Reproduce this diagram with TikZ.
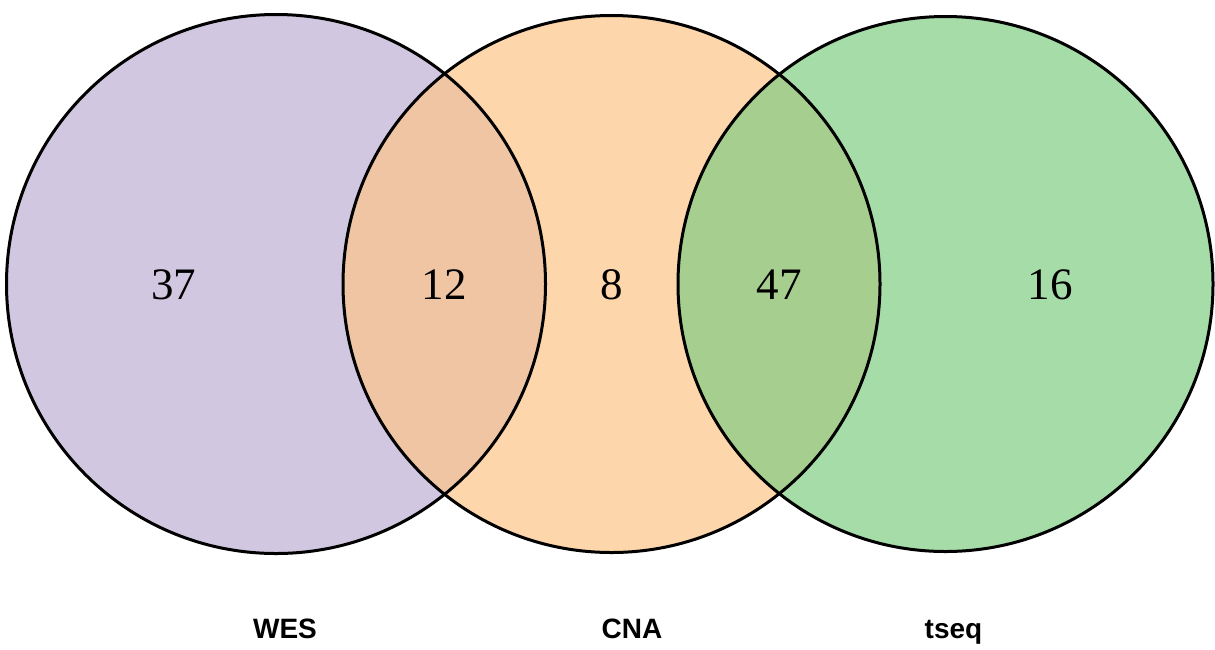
\documentclass[tikz,border=0pt]{standalone}
\usepackage{fontspec}
\setmainfont{Liberation Serif}
\newfontfamily\labelfont{Liberation Sans}
\definecolor{cwes}{RGB}{209,199,224}
\definecolor{ccna}{RGB}{253,214,171}
\definecolor{ctseq}{RGB}{166,220,168}
\definecolor{cwc}{RGB}{239,197,163}
\definecolor{cct}{RGB}{166,206,142}
\tikzset{
  setcircle/.style={circle, inner sep=0pt, outer sep=0pt, draw=none},
  outline/.style={line width=3pt, draw=black},
  count/.style={anchor=base, inner sep=0pt, font=\fontsize{45}{45}\selectfont},
  setlabel/.style={anchor=base, inner sep=0pt, font=\labelfont\bfseries\fontsize{28}{28}\selectfont}
}
\begin{document}
\begin{tikzpicture}[x=1pt,y=-1pt]
\useasboundingbox (0,0) rectangle (1215,649);
% filled sets
\node[setcircle, fill=cwes, minimum size=539pt] (wes) at (276,284) {};
\node[setcircle, fill=ccna, minimum size=537pt] (cna) at (611.5,284) {};
\node[setcircle, fill=ctseq, minimum size=535pt] (tseq) at (945.5,284) {};
% overlaps
\begin{scope}
  \clip (wes.center) circle (269.5pt);
  \fill[cwc] (cna.center) circle (268.5pt);
\end{scope}
\begin{scope}
  \clip (cna.center) circle (268.5pt);
  \fill[cct] (tseq.center) circle (267.5pt);
\end{scope}
% outlines
\draw[outline] (wes.center) circle (269.5pt);
\draw[outline] (cna.center) circle (268.5pt);
\draw[outline] (tseq.center) circle (267.5pt);
% counts
\node[count] (n37) at (173.5,299.5) {37};
\node[count] (n12) at (444,299.5) {12};
\node[count] (n8) at (612,299.5) {8};
\node[count] (n47) at (779,299.5) {47};
\node[count] (n16) at (1050,299.5) {16};
% labels
\node[setlabel] (lwes) at (285,638) {WES};
\node[setlabel] (lcna) at (632,638) {CNA};
\node[setlabel] (ltseq) at (953.5,638) {tseq};
\end{tikzpicture}
\end{document}
